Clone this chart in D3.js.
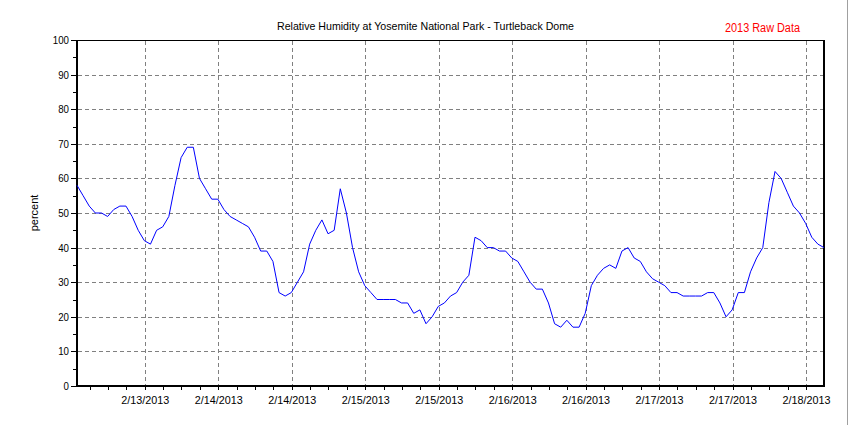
<!DOCTYPE html>
<html>
<head>
<meta charset="utf-8">
<script src="https://cdn.jsdelivr.net/npm/d3@7/dist/d3.min.js"></script>
<style>
  html, body { margin: 0; padding: 0; background: #fff; }
  svg { display: block; }
  text { font-family: "Liberation Sans", Arial, sans-serif; }
</style>
</head>
<body>
<svg id="chart" width="850" height="425"></svg>
<script>
// ---- data ----
const title = "Relative Humidity at Yosemite National Park - Turtleback Dome";
const subtitle = "2013 Raw Data";
const yLabel = "percent";
const startTime = "2013-02-13T00:56:00Z";   // first hourly reading
const stepHours = 1;
const humidity = [
  58, 55, 52, 50, 50, 49, 51, 52, 52, 49, 45, 42, 41, 45, 46, 49, 58, 66, 69, 69,
  60, 57, 54, 54, 51, 49, 48, 47, 46, 43, 39, 39, 36, 27, 26, 27, 30, 33, 41, 45,
  48, 44, 45, 57, 50, 40, 33, 29, 27, 25, 25, 25, 25, 24, 24, 21, 22, 18, 20, 23,
  24, 26, 27, 30, 32, 43, 42, 40, 40, 39, 39, 37, 36, 33, 30, 28, 28, 24, 18, 17,
  19, 17, 17, 21, 29, 32, 34, 35, 34, 39, 40, 37, 36, 33, 31, 30, 29, 27, 27, 26,
  26, 26, 26, 27, 27, 24, 20, 22, 27, 27, 33, 37, 40, 53, 62, 60, 56, 52, 50, 47,
  43, 41, 40
];
const xTickTimes = [
  "2013-02-13T12:00:00Z", "2013-02-14T00:00:00Z", "2013-02-14T12:00:00Z",
  "2013-02-15T00:00:00Z", "2013-02-15T12:00:00Z", "2013-02-16T00:00:00Z",
  "2013-02-16T12:00:00Z", "2013-02-17T00:00:00Z", "2013-02-17T12:00:00Z",
  "2013-02-18T00:00:00Z"
];
const xTickLabels = [
  "2/13/2013", "2/14/2013", "2/14/2013", "2/15/2013", "2/15/2013",
  "2/16/2013", "2/16/2013", "2/17/2013", "2/17/2013", "2/18/2013"
];
const yMajorTicks = [0, 10, 20, 30, 40, 50, 60, 70, 80, 90, 100];
const yMinorTicks = [5, 15, 25, 35, 45, 55, 65, 75, 85, 95];

// ---- build ----
const t0 = new Date(startTime);
const points = humidity.map((v, i) => ({ t: d3.utcHour.offset(t0, i * stepHours), v }));
const ticks = xTickTimes.map(s => new Date(s));

const plotL = 77, plotR = 824, plotT = 40, plotB = 386;
const svg = d3.select("#chart");

const x = d3.scaleUtc()
  .domain(d3.extent(points, d => d.t))
  .range([plotL, plotR]);
const y = d3.scaleLinear().domain([0, 100]).range([plotB, plotT]);

// window edge line
svg.append("line").attr("x1", 847.5).attr("x2", 847.5).attr("y1", 0).attr("y2", 425)
  .attr("stroke", "#a0a0a0").attr("stroke-width", 1);

// grid
const grid = svg.append("g").attr("stroke", "#808080").attr("stroke-width", 1)
  .attr("stroke-dasharray", "4,3").attr("shape-rendering", "crispEdges");
grid.selectAll("line.h").data(yMajorTicks.filter(d => d > 0 && d < 100)).join("line")
  .attr("class", "h")
  .attr("x1", plotL + 1).attr("x2", plotR)
  .attr("y1", d => Math.round(y(d)) + 0.5).attr("y2", d => Math.round(y(d)) + 0.5);
grid.selectAll("line.v").data(ticks).join("line")
  .attr("class", "v")
  .attr("x1", d => Math.round(x(d)) + 0.5).attr("x2", d => Math.round(x(d)) + 0.5)
  .attr("y1", plotT + 1).attr("y2", plotB + 5);

// x minor ticks (every 3 hours)
const minorX = d3.utcHour.every(3).range(x.domain()[0], x.domain()[1]);
svg.append("g")
  .attr("transform", `translate(0,${plotB})`)
  .call(d3.axisBottom(x).tickValues(minorX).tickSize(4).tickFormat(""))
  .call(g => g.select(".domain").remove())
  .call(g => g.selectAll("line").attr("stroke", "#000").attr("shape-rendering", "crispEdges"));

// x labels
svg.append("g")
  .attr("transform", `translate(0,${plotB})`)
  .call(d3.axisBottom(x).tickValues(ticks).tickSize(0)
    .tickFormat((d, i) => xTickLabels[i]))
  .call(g => g.select(".domain").remove())
  .call(g => g.selectAll("text")
    .attr("y", 18).attr("dy", 0)
    .attr("fill", "#000")
    .style("font-size", "11px")
    .attr("textLength", 48).attr("lengthAdjust", "spacingAndGlyphs"));

// y axis major
svg.append("g")
  .attr("transform", `translate(${plotL},0)`)
  .call(d3.axisLeft(y).tickValues(yMajorTicks).tickSize(6).tickPadding(2))
  .call(g => g.select(".domain").remove())
  .call(g => g.selectAll("line").attr("stroke", "#000").attr("shape-rendering", "crispEdges"))
  .call(g => g.selectAll("text").attr("fill", "#000").style("font-size", "11px")
    .attr("textLength", d => String(d).length * 5.4).attr("lengthAdjust", "spacingAndGlyphs"));
// y axis minor
svg.append("g")
  .attr("transform", `translate(${plotL},0)`)
  .call(d3.axisLeft(y).tickValues(yMinorTicks).tickSize(4).tickFormat(""))
  .call(g => g.select(".domain").remove())
  .call(g => g.selectAll("line").attr("stroke", "#000").attr("shape-rendering", "crispEdges"));

// frame
svg.append("line").attr("x1", plotL).attr("x2", plotR).attr("y1", plotT + 0.5).attr("y2", plotT + 0.5)
  .attr("stroke", "#000").attr("stroke-width", 1);
svg.append("line").attr("x1", plotL - 1).attr("x2", plotR + 1).attr("y1", plotB).attr("y2", plotB)
  .attr("stroke", "#000").attr("stroke-width", 2);
svg.append("line").attr("x1", plotL).attr("x2", plotL).attr("y1", plotT).attr("y2", plotB + 1)
  .attr("stroke", "#000").attr("stroke-width", 2);
svg.append("line").attr("x1", plotR).attr("x2", plotR).attr("y1", plotT).attr("y2", plotB + 1)
  .attr("stroke", "#000").attr("stroke-width", 2);

// data line
svg.append("path")
  .datum(points)
  .attr("fill", "none")
  .attr("stroke", "#0000ff")
  .attr("stroke-width", 1)
  .attr("d", d3.line().x(d => x(d.t)).y(d => y(d.v)));

// titles
svg.append("text").attr("x", 425.5).attr("y", 30).attr("text-anchor", "middle")
  .style("font-size", "11px").attr("fill", "#000")
  .attr("textLength", 297).attr("lengthAdjust", "spacingAndGlyphs")
  .text(title);
svg.append("text").attr("x", 762.5).attr("y", 32).attr("text-anchor", "middle")
  .style("font-size", "12px").attr("fill", "#ff0000")
  .attr("textLength", 75).attr("lengthAdjust", "spacingAndGlyphs")
  .text(subtitle);
svg.append("text")
  .attr("transform", "translate(38,213) rotate(-90)")
  .attr("text-anchor", "middle")
  .style("font-size", "11px").attr("fill", "#000")
  .text(yLabel);
</script>
</body>
</html>
